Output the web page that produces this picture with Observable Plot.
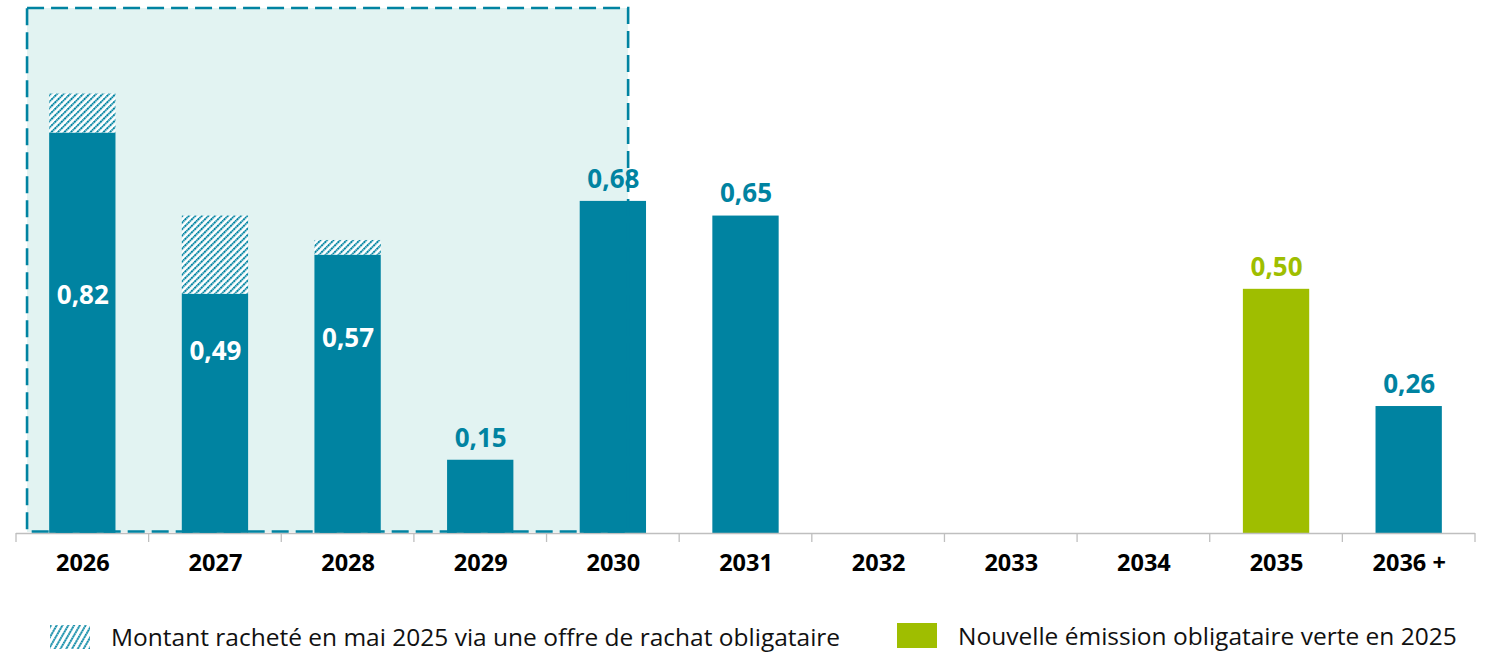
<!DOCTYPE html>
<html><head><meta charset="utf-8">
<script src="https://cdn.jsdelivr.net/npm/d3@7"></script>
<script src="https://cdn.jsdelivr.net/npm/@observablehq/plot@0.6"></script>
<style>
body{margin:0;background:#fff;font-family:"Open Sans",sans-serif;}
#wrap{position:relative;width:1491px;height:652px;overflow:hidden;}
#legend{position:absolute;left:0;top:590px;width:1491px;height:62px;}
.item{position:absolute;display:flex;align-items:center;font-size:24.5px;color:#111;white-space:nowrap;}
.sw{width:40px;height:24px;margin-right:21px;flex:none;}
</style></head><body>
<div id="wrap"><div id="chart"></div><div id="legend"></div></div>
<script>
const years = ["2026","2027","2028","2029","2030","2031","2032","2033","2034","2035","2036 +"];
const amounts = [0.82,0.49,0.57,0.15,0.68,0.65,0,0,0,0.50,0.26];
const repurchased = [0.08,0.16,0.03,0,0,0,0,0,0,0,0];
const kinds = ["existing","existing","existing","existing","existing","existing","existing","existing","existing","green","existing"];
const insideLabel = [true,true,true,false,false,false,false,false,false,false,false];
const highlightRange = ["2026","2030"];
const legendLabels = ["Montant racheté en mai 2025 via une offre de rachat obligataire","Nouvelle émission obligataire verte en 2025"];

const TEAL = "#0083a1", GREEN = "#9fbe00", BOX = "#e2f3f2";
const fmt = v => v.toFixed(2).replace(".", ",");
const rows = years.map((y,i)=>({year:y, value:amounts[i], rep:repurchased[i], kind:kinds[i], inside:insideLabel[i]}));

const plot = Plot.plot({
  width:1491, height:590,
  marginLeft:16, marginRight:16, marginTop:8, marginBottom:57,
  style:{fontFamily:"'Open Sans', sans-serif", color:"#000", background:"transparent"},
  x:{domain:years, paddingInner:0.5, paddingOuter:0.25, round:false, label:null},
  y:{domain:[0,1.075], axis:null},
  color:{domain:["existing","green"], range:[TEAL, GREEN]},
  marks:[
    Plot.barY(rows, {x:"year", y:"value", fill:"kind"}),
    Plot.barY(rows.filter(d=>d.rep>0), {x:"year", y1:"value", y2:d=>d.value+d.rep, fill:"url(#hatch)"}),
    Plot.text(rows.filter(d=>d.value>0 && !d.inside), {x:"year", y:"value", text:d=>fmt(d.value), dy:-22, fill:d=>d.kind==="green"?GREEN:TEAL, fontSize:26, fontWeight:"bold"}),
    Plot.text(rows.filter(d=>d.inside), {x:"year", y:d=>d.value*0.35+0.2, text:d=>fmt(d.value), fill:"white", fontSize:26, fontWeight:"bold"}),
    Plot.axisX({tickSize:0, tickPadding:21, fontSize:23.5, fontWeight:"bold", fill:"#000"})
  ]
});
document.getElementById("chart").append(plot);

const svg = d3.select(plot);
const xs = plot.scale("x"), ys = plot.scale("y");
const bw = xs.bandwidth, step = xs.step;
const gap = (step-bw)/2;
const y0 = ys.apply(0), yTop = ys.apply(1.075);

// pattern
const defs = svg.insert("defs", ":first-child");
const pat = defs.append("pattern").attr("id","hatch").attr("patternUnits","userSpaceOnUse")
  .attr("width",4.6).attr("height",4.6).attr("patternTransform","rotate(45)");
pat.append("rect").attr("width",4.6).attr("height",4.6).attr("fill","white");
pat.append("line").attr("x1",1).attr("y1",0).attr("x2",1).attr("y2",4.6)
  .attr("stroke",TEAL).attr("stroke-width",2).attr("stroke-dasharray","1.8,0.5");

// highlight box behind bars
const bx0 = xs.apply(highlightRange[0]) - bw/3;
const bx1 = xs.apply(highlightRange[1]) + bw*0.73;
const back = svg.insert("g", "defs + *");
back.append("rect").attr("x",bx0).attr("y",yTop).attr("width",bx1-bx0).attr("height",y0-yTop-1).attr("fill",BOX);
// axis baseline and separators
const axisG = svg.append("g").attr("stroke","#bfbfbf").attr("stroke-width",1.3);
const xLeft = xs.apply(years[0]) - gap, xRight = xs.apply(years[years.length-1]) + bw + gap;
axisG.append("line").attr("x1",xLeft).attr("x2",xRight).attr("y1",y0+0.5).attr("y2",y0+0.5);
years.forEach(y=>{
  const xb = xs.apply(y) - gap;
  axisG.append("line").attr("x1",xb).attr("x2",xb).attr("y1",y0).attr("y2",y0+9);
});
axisG.append("line").attr("x1",xRight).attr("x2",xRight).attr("y1",y0).attr("y2",y0+9);
// dashed outline on top
svg.append("rect").attr("x",bx0).attr("y",yTop).attr("width",bx1-bx0).attr("height",y0-yTop-1.5)
  .attr("fill","none").attr("stroke",TEAL).attr("stroke-width",2.6).attr("stroke-dasharray","17,7");

// legend
const leg = document.getElementById("legend");
leg.innerHTML = `
<div class="item" style="left:50px;top:30px;">
 <svg class="sw" width="40" height="24"><defs><pattern id="hatchL" patternUnits="userSpaceOnUse" width="5" height="5" patternTransform="rotate(30)"><line x1="1" y1="0" x2="1" y2="5" stroke="${TEAL}" stroke-width="1.9" stroke-dasharray="1.8,0.5"/></pattern></defs><rect width="40" height="24" fill="url(#hatchL)"/></svg>
 <span>${legendLabels[0]}</span></div>
<div class="item" style="left:897px;top:29px;">
 <div class="sw" style="background:${GREEN};height:25px;"></div>
 <span>${legendLabels[1]}</span></div>`;
</script>
</body></html>
